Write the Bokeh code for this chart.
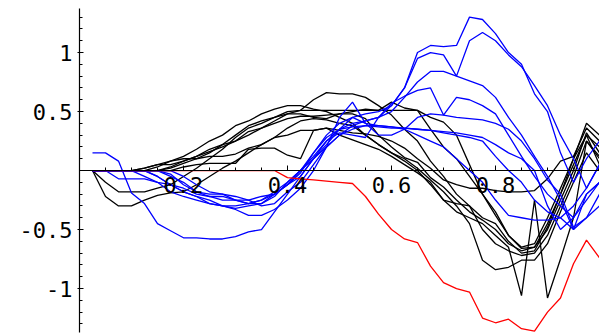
from bokeh.plotting import figure
from bokeh.models import Range1d, LinearAxis, FixedTicker
from bokeh.embed import file_html
from bokeh.resources import INLINE

x = [0.025, 0.05, 0.075, 0.1, 0.125, 0.15, 0.175, 0.2, 0.225, 0.25,
     0.275, 0.3, 0.325, 0.35, 0.375, 0.4, 0.425, 0.45, 0.475, 0.5,
     0.525, 0.55, 0.575, 0.6, 0.625, 0.65, 0.675, 0.7, 0.725, 0.75,
     0.775, 0.8, 0.825, 0.85, 0.875, 0.9, 0.925, 0.95, 0.975, 1.0]

black_1 = [0, -0.22, -0.30, -0.30, -0.25, -0.21, -0.19, -0.18, -0.12, -0.05, 0.02, 0.08, 0.15, 0.22, 0.28, 0.36, 0.42, 0.44, 0.43, 0.40, 0.38, 0.30, 0.22, 0.15, 0.10, 0.02, -0.08, -0.18, -0.30, -0.45, -0.76, -0.84, -0.82, -0.76, -0.76, -0.62, -0.35, -0.10, 0.15, 0.00]
black_2 = [0, -0.10, -0.18, -0.18, -0.18, -0.15, -0.12, -0.05, 0.02, 0.10, 0.18, 0.28, 0.36, 0.40, 0.45, 0.50, 0.51, 0.60, 0.66, 0.65, 0.65, 0.62, 0.55, 0.47, 0.35, 0.25, 0.08, -0.05, -0.20, -0.30, -0.50, -0.62, -0.68, -0.72, -0.70, -0.55, -0.30, -0.05, 0.25, 0.12]
black_3 = [0, 0, 0, 0, 0.02, 0.05, 0.08, 0.10, 0.10, 0.12, 0.12, 0.14, 0.19, 0.22, 0.28, 0.30, 0.34, 0.34, 0.36, 0.34, 0.32, 0.31, 0.29, 0.25, 0.19, 0.10, 0.02, -0.08, -0.12, -0.15, -0.15, -0.17, -0.18, -0.18, -0.17, -0.07, 0.08, 0.12, 0.36, 0.25]
black_4 = [0, 0, 0, 0, 0, 0.03, 0.08, 0.12, 0.18, 0.25, 0.30, 0.38, 0.42, 0.48, 0.52, 0.55, 0.55, 0.52, 0.50, 0.45, 0.40, 0.30, 0.22, 0.15, 0.08, 0.0, -0.12, -0.25, -0.35, -0.40, -0.45, -0.55, -0.65, -1.06, -0.25, -1.08, -0.75, -0.40, 0.25, 0.10]
black_5 = [0, 0, 0, 0, 0, 0, 0.02, 0.06, 0.10, 0.15, 0.22, 0.25, 0.30, 0.36, 0.40, 0.44, 0.46, 0.46, 0.47, 0.48, 0.48, 0.44, 0.30, 0.20, 0.11, 0.07, -0.06, -0.14, -0.25, -0.35, -0.42, -0.50, -0.62, -0.68, -0.65, -0.45, -0.20, 0.05, 0.30, 0.20]
black_6 = [0, 0, 0, 0, 0.02, 0.05, 0.05, 0.08, 0.12, 0.18, 0.22, 0.30, 0.38, 0.42, 0.45, 0.48, 0.48, 0.45, 0.44, 0.48, 0.50, 0.52, 0.51, 0.58, 0.53, 0.51, 0.45, 0.41, 0.30, 0.05, -0.20, -0.35, -0.55, -0.65, -0.62, -0.40, -0.15, 0.10, 0.40, 0.30]
black_7 = [0, 0, 0, 0, 0, 0, 0.03, 0.08, 0.12, 0.16, 0.20, 0.25, 0.33, 0.36, 0.42, 0.48, 0.51, 0.51, 0.51, 0.51, 0.51, 0.51, 0.51, 0.51, 0.51, 0.51, 0.35, 0.20, 0.10, -0.05, -0.20, -0.38, -0.55, -0.66, -0.65, -0.50, -0.25, 0.00, 0.32, 0.15]
black_8 = [0, 0, 0, 0, 0, 0, 0, 0.03, 0.05, 0.06, 0.06, 0.06, 0.18, 0.19, 0.19, 0.13, 0.10, 0.34, 0.36, 0.30, 0.26, 0.22, 0.18, 0.12, 0.05, -0.02, -0.10, -0.25, -0.28, -0.30, -0.40, -0.45, -0.60, -0.70, -0.68, -0.48, -0.20, 0.10, 0.30, 0.05]

blue_1 = [0.15, 0.15, 0.08, -0.19, -0.28, -0.45, -0.51, -0.57, -0.57, -0.58, -0.58, -0.56, -0.52, -0.50, -0.35, -0.20, -0.05, 0.10, 0.22, 0.35, 0.45, 0.40, 0.38, 0.37, 0.36, 0.35, 0.34, 0.33, 0.32, 0.30, 0.28, 0.22, 0.15, 0.10, 0.00, -0.30, -0.50, -0.40, -0.20, -0.10]
blue_2 = [0, 0, 0, 0, -0.05, -0.10, -0.12, -0.15, -0.20, -0.22, -0.25, -0.25, -0.28, -0.28, -0.22, -0.10, 0.00, 0.15, 0.30, 0.40, 0.45, 0.48, 0.50, 0.55, 0.70, 1.00, 1.06, 1.05, 1.06, 1.30, 1.28, 1.16, 1.00, 0.90, 0.65, 0.50, 0.15, -0.10, 0.10, 0.25]
blue_3 = [0, 0, 0, 0, 0, -0.05, -0.12, -0.18, -0.22, -0.25, -0.30, -0.32, -0.30, -0.28, -0.20, -0.12, -0.02, 0.15, 0.28, 0.35, 0.40, 0.42, 0.45, 0.55, 0.70, 0.95, 1.00, 0.98, 0.80, 1.10, 1.17, 1.10, 0.98, 0.88, 0.72, 0.55, 0.30, 0.10, -0.15, 0.05]
blue_4 = [0, 0, 0, 0, 0, 0, -0.05, -0.10, -0.18, -0.22, -0.22, -0.25, -0.25, -0.22, -0.20, -0.12, 0.00, 0.10, 0.20, 0.30, 0.38, 0.42, 0.45, 0.50, 0.62, 0.75, 0.84, 0.84, 0.80, 0.76, 0.72, 0.62, 0.45, 0.30, 0.12, -0.05, -0.25, -0.50, -0.20, -0.10]
blue_5 = [0, 0, -0.07, -0.07, -0.07, -0.10, -0.18, -0.22, -0.25, -0.28, -0.30, -0.30, -0.28, -0.25, -0.18, -0.10, 0.00, 0.12, 0.25, 0.32, 0.30, 0.28, 0.45, 0.57, 0.63, 0.68, 0.70, 0.47, 0.62, 0.60, 0.55, 0.48, 0.30, 0.12, -0.05, -0.20, -0.30, -0.40, -0.25, -0.10]
blue_6 = [0, 0, 0, 0, 0, -0.05, -0.12, -0.18, -0.22, -0.28, -0.30, -0.33, -0.38, -0.38, -0.33, -0.25, -0.15, 0.00, 0.20, 0.45, 0.58, 0.40, 0.30, 0.30, 0.35, 0.45, 0.48, 0.47, 0.45, 0.44, 0.43, 0.40, 0.35, 0.25, 0.10, -0.08, -0.20, -0.48, -0.40, -0.20]
blue_7 = [0, 0, 0, 0, 0, 0, -0.03, -0.12, -0.18, -0.20, -0.20, -0.25, -0.28, -0.25, -0.20, -0.12, -0.05, 0.10, 0.25, 0.35, 0.37, 0.38, 0.37, 0.36, 0.36, 0.35, 0.34, 0.32, 0.30, 0.28, 0.25, 0.12, 0.00, -0.10, -0.25, -0.35, -0.40, -0.50, -0.40, -0.30]
blue_8 = [0, 0, 0, 0, 0, 0, 0, -0.05, -0.12, -0.18, -0.20, -0.22, -0.25, -0.30, -0.28, -0.18, -0.10, 0.05, 0.20, 0.30, 0.35, 0.38, 0.38, 0.37, 0.35, 0.30, 0.25, 0.20, 0.10, 0.00, -0.10, -0.25, -0.38, -0.40, -0.42, -0.42, -0.40, -0.30, -0.15, 0.05]

red_1 = [0, 0, 0, 0, 0, 0, 0, 0, 0, 0, 0, 0, 0, 0, 0, -0.06, -0.07, -0.08, -0.09, -0.10, -0.11, -0.22, -0.37, -0.50, -0.58, -0.61, -0.81, -0.95, -1.00, -1.03, -1.25, -1.29, -1.26, -1.34, -1.36, -1.20, -1.08, -0.79, -0.59, -0.74]

black_series = [black_1, black_2, black_3, black_4, black_5, black_6, black_7, black_8]
blue_series = [blue_1, blue_2, blue_3, blue_4, blue_5, blue_6, blue_7, blue_8]

y_major = [-1, -0.5, 0.5, 1]
y_minor = [-1.3, -1.2, -1.1, -0.9, -0.8, -0.7, -0.6, -0.4, -0.3, -0.2, -0.1,
           0.1, 0.2, 0.3, 0.4, 0.6, 0.7, 0.8, 0.9, 1.1, 1.2, 1.3]
x_major = [0.2, 0.4, 0.6, 0.8]
x_minor = [0.05, 0.1, 0.15, 0.25, 0.3, 0.35, 0.45, 0.5, 0.55, 0.65, 0.7, 0.75,
           0.85, 0.9, 0.95]

p = figure(width=599, height=335, x_range=Range1d(-0.1519, 1.0),
           y_range=Range1d(-1.398, 1.441), x_axis_type=None, y_axis_type=None,
           min_border=0, toolbar_location=None, output_backend="svg")
p.outline_line_color = None
p.background_fill_color = "white"

for ys in black_series:
    p.line(x, ys, line_color="black", line_width=1.3)
for ys in blue_series:
    p.line(x, ys, line_color="#0000ff", line_width=1.3)
p.line(x, red_1, line_color="#ff0000", line_width=1.3)

FONT = "DejaVu Sans Mono"

xaxis = LinearAxis(fixed_location=0, bounds=(0, 1.0),
                   ticker=FixedTicker(ticks=x_major, minor_ticks=x_minor))
xaxis.major_label_overrides = {0.2: "0.2", 0.4: "0.4", 0.6: "0.6", 0.8: "0.8"}
xaxis.major_tick_in = 5
xaxis.major_tick_out = 0
xaxis.minor_tick_in = 3
xaxis.minor_tick_out = 0
xaxis.major_label_standoff = 6
xaxis.major_label_text_font = FONT
xaxis.major_label_text_font_size = "22px"
xaxis.major_label_text_color = "black"
xaxis.axis_line_color = "black"
xaxis.axis_line_width = 1.2
p.add_layout(xaxis, "below")

yaxis = LinearAxis(fixed_location=0, bounds=(-1.37, 1.37),
                   ticker=FixedTicker(ticks=y_major, minor_ticks=y_minor))
yaxis.major_label_overrides = {-1: "-1", -0.5: "-0.5", 0.5: "0.5", 1: "1"}
yaxis.major_tick_in = 4
yaxis.major_tick_out = 2
yaxis.minor_tick_in = 3
yaxis.minor_tick_out = 0
yaxis.major_label_standoff = 5
yaxis.major_label_text_font = FONT
yaxis.major_label_text_font_size = "22px"
yaxis.major_label_text_color = "black"
yaxis.axis_line_color = "black"
yaxis.axis_line_width = 1.2
p.add_layout(yaxis, "left")

open("out.html", "w").write(file_html(p, INLINE))
